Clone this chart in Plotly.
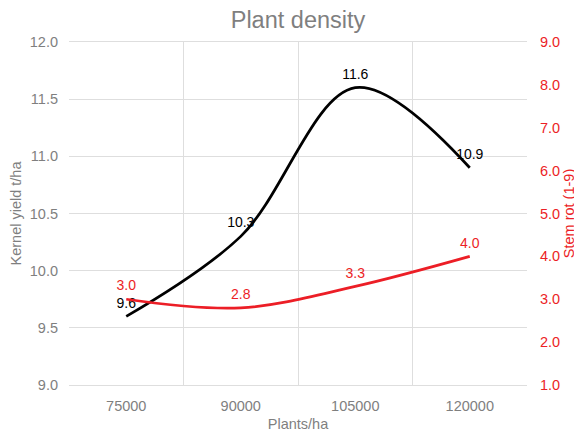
import plotly.graph_objects as go

categories = ["75000", "90000", "105000", "120000"]
kernel_yield = [9.6, 10.3, 11.6, 10.9]
stem_rot = [3.0, 2.8, 3.3, 4.0]
yield_ticks = [9.0, 9.5, 10.0, 10.5, 11.0, 11.5, 12.0]
rot_ticks = [1.0, 2.0, 3.0, 4.0, 5.0, 6.0, 7.0, 8.0, 9.0]

GRAY = "#7f7f7f"
RED = "#ec1e26"
GRID = "#dedede"
FONT = "Liberation Sans, Arial, sans-serif"

fig = go.Figure()
fig.add_trace(go.Scatter(
    x=categories, y=kernel_yield, mode="lines+markers+text",
    line=dict(color="black", width=2.75, shape="spline", smoothing=1.0),
    marker=dict(size=7, color="rgba(0,0,0,0)"),
    text=[f"{v:.1f}" for v in kernel_yield], textposition="top center",
    textfont=dict(color="black", size=14, family=FONT),
    yaxis="y", showlegend=False, cliponaxis=False, hoverinfo="skip"))
fig.add_trace(go.Scatter(
    x=categories, y=stem_rot, mode="lines+markers+text",
    line=dict(color=RED, width=2.75, shape="spline", smoothing=1.0),
    marker=dict(size=7, color="rgba(0,0,0,0)"),
    text=[f"{v:.1f}" for v in stem_rot], textposition="top center",
    textfont=dict(color=RED, size=14, family=FONT),
    yaxis="y2", showlegend=False, cliponaxis=False, hoverinfo="skip"))

# The page body has an 8px margin, so the figure is drawn 8px in from the top-left.
fig.update_layout(
    width=574, height=424,
    margin=dict(l=61, r=55, t=34, b=47, autoexpand=False),
    paper_bgcolor="white", plot_bgcolor="white",
    font=dict(family=FONT, color=GRAY, size=14.5),
    title=dict(text="Plant density", x=0.5, xref="paper", y=1 - 12 / 424,
               yref="container", yanchor="middle",
               font=dict(size=23.5, color=GRAY, family=FONT)),
    xaxis=dict(type="category", range=[-0.5, 3.5], tickson="boundaries",
               showgrid=True, gridcolor=GRID, gridwidth=1,
               showline=True, linecolor=GRID, mirror=True,
               ticks="", ticklen=0, automargin=False, ticklabelstandoff=8,
               tickfont=dict(size=14.5, color=GRAY),
               title=dict(text="Plants/ha", font=dict(size=14.5, color=GRAY), standoff=6)),
    yaxis=dict(range=[9.0, 12.0], tickvals=yield_ticks,
               ticktext=[f"{v:.1f}" for v in yield_ticks],
               showgrid=True, gridcolor=GRID, zeroline=False, showline=False,
               tickfont=dict(size=14.5, color=GRAY), ticks="", ticklabelstandoff=10,
               automargin=False,
               title=dict(text="Kernel yield t/ha", font=dict(size=14.5, color=GRAY), standoff=4)),
    yaxis2=dict(range=[1.0, 9.0], tickvals=rot_ticks,
                ticktext=[f"{v:.1f}" for v in rot_ticks],
                overlaying="y", side="right", showgrid=False, zeroline=False,
                showline=False, ticks="", ticklabelstandoff=12, automargin=False,
                tickfont=dict(size=14.5, color=RED),
                title=dict(text="Stem rot (1-9)", font=dict(size=14.5, color=RED), standoff=4)),
)

fig.write_html("out.html")
